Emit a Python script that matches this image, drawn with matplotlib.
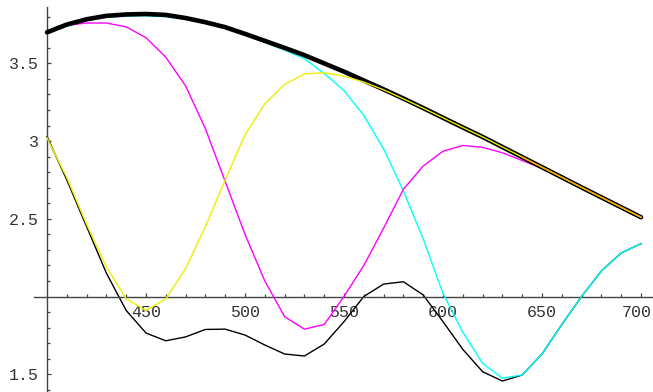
import matplotlib
matplotlib.use("Agg")
import matplotlib.pyplot as plt
from matplotlib.ticker import FixedLocator, FixedFormatter
from matplotlib.transforms import ScaledTranslation

# Wavelength grid (nm)
wavelength = list(range(400, 710, 10))

# Measured spectrum (thick black)
measured = [3.70, 3.75, 3.784, 3.806, 3.815, 3.818, 3.812, 3.792, 3.765, 3.733,
            3.69, 3.645, 3.60, 3.553, 3.50, 3.447, 3.39, 3.333, 3.274, 3.213,
            3.15, 3.088, 3.027, 2.962, 2.897, 2.832, 2.767, 2.702, 2.638, 2.574,
            2.51]

# Model curves
model_black = [3.03, 2.75, 2.45, 2.15, 1.91, 1.765, 1.715, 1.74, 1.788, 1.79,
               1.752, 1.688, 1.63, 1.617, 1.694, 1.838, 2.00, 2.08, 2.095, 2.01,
               1.838, 1.66, 1.516, 1.456, 1.495, 1.63, 1.82, 2.00, 2.165, 2.28,
               2.34]
model_cyan = [3.69, 3.74, 3.775, 3.797, 3.805, 3.806, 3.80, 3.785, 3.758, 3.725,
              3.683, 3.635, 3.585, 3.53, 3.435, 3.325, 3.165, 2.95, 2.68, 2.37,
              2.02, 1.77, 1.57, 1.475, 1.495, 1.63, 1.82, 2.00, 2.165, 2.28,
              2.34]
model_magenta = [3.70, 3.745, 3.76, 3.76, 3.735, 3.665, 3.54, 3.355, 3.08, 2.74,
                 2.40, 2.10, 1.87, 1.79, 1.82, 2.00, 2.20, 2.44, 2.69, 2.84,
                 2.935, 2.972, 2.96, 2.925, 2.875, 2.825, 2.76, 2.695, 2.632, 2.568,
                 2.505]
model_yellow = [3.02, 2.765, 2.465, 2.19, 1.985, 1.91, 1.985, 2.18, 2.45, 2.75,
                3.04, 3.24, 3.365, 3.432, 3.44, 3.418, 3.38, 3.33, 3.272, 3.212,
                3.15, 3.088, 3.027, 2.962, 2.897, 2.832, 2.767, 2.702, 2.638, 2.574,
                2.51]
orange_wavelength = [640, 650, 660, 670, 680, 690, 700]
model_orange = [2.897, 2.832, 2.767, 2.702, 2.638, 2.574, 2.51]

x_major = [450, 500, 550, 600, 650, 700]
x_labels = ["450", "500", "550", "600", "650", "700"]
x_minor = [w for w in range(410, 710, 10) if w % 50 != 0]
y_major = [1.5, 2.5, 3.0, 3.5]
y_labels = ["1.5", "2.5", "3", "3.5"]
y_minor = [k / 10 for k in range(14, 39) if k % 5 != 0]

fig = plt.figure(figsize=(6.53, 3.92), dpi=100)
ax = fig.add_axes([0, 0, 1, 1])
ax.set_xlim(376.26, 706.06)
ax.set_ylim(1.3855, 3.908)

ax.plot(wavelength, model_black, color="black", lw=1.0, zorder=2)
ax.plot(wavelength, model_cyan, color="#00FFFF", lw=1.0, zorder=3)
ax.plot(wavelength, model_magenta, color="#FF00FF", lw=1.0, zorder=3)
ax.plot(wavelength, measured, color="black", lw=3.3,
        solid_capstyle="round", solid_joinstyle="round", zorder=4)
ax.plot(wavelength, model_yellow, color="#EEEE00", lw=1.0, zorder=5)
ax.plot(orange_wavelength, model_orange, color="#FFA500", lw=1.0, zorder=6)

for side in ("top", "right"):
    ax.spines[side].set_visible(False)
ax.spines["left"].set_position(("data", 400))
ax.spines["bottom"].set_position(("data", 2.0))
ax.spines["left"].set_bounds(1.3855, 3.863)
ax.spines["bottom"].set_bounds(393.4, 706.06)
for side in ("left", "bottom"):
    ax.spines[side].set_color("#444444")
    ax.spines[side].set_linewidth(1.0)

ax.xaxis.set_major_locator(FixedLocator(x_major))
ax.xaxis.set_major_formatter(FixedFormatter(x_labels))
ax.xaxis.set_minor_locator(FixedLocator(x_minor))
ax.yaxis.set_major_locator(FixedLocator(y_major))
ax.yaxis.set_major_formatter(FixedFormatter(y_labels))
ax.yaxis.set_minor_locator(FixedLocator(y_minor))

ax.tick_params(which="both", direction="in", color="#444444", width=0.9,
               labelsize=12, labelcolor="#333333")
ax.tick_params(which="major", length=3.2, pad=6)
ax.tick_params(which="minor", length=2.0)
for lab in ax.get_xticklabels() + ax.get_yticklabels():
    lab.set_family("Liberation Mono")

# keep the last wavelength label inside the canvas
last = ax.xaxis.get_major_ticks()[-1].label1
last.set_transform(last.get_transform() +
                   ScaledTranslation(-3 / 72, 0, fig.dpi_scale_trans))

ax.patch.set_visible(False)
fig.savefig("out.png", dpi=100)
